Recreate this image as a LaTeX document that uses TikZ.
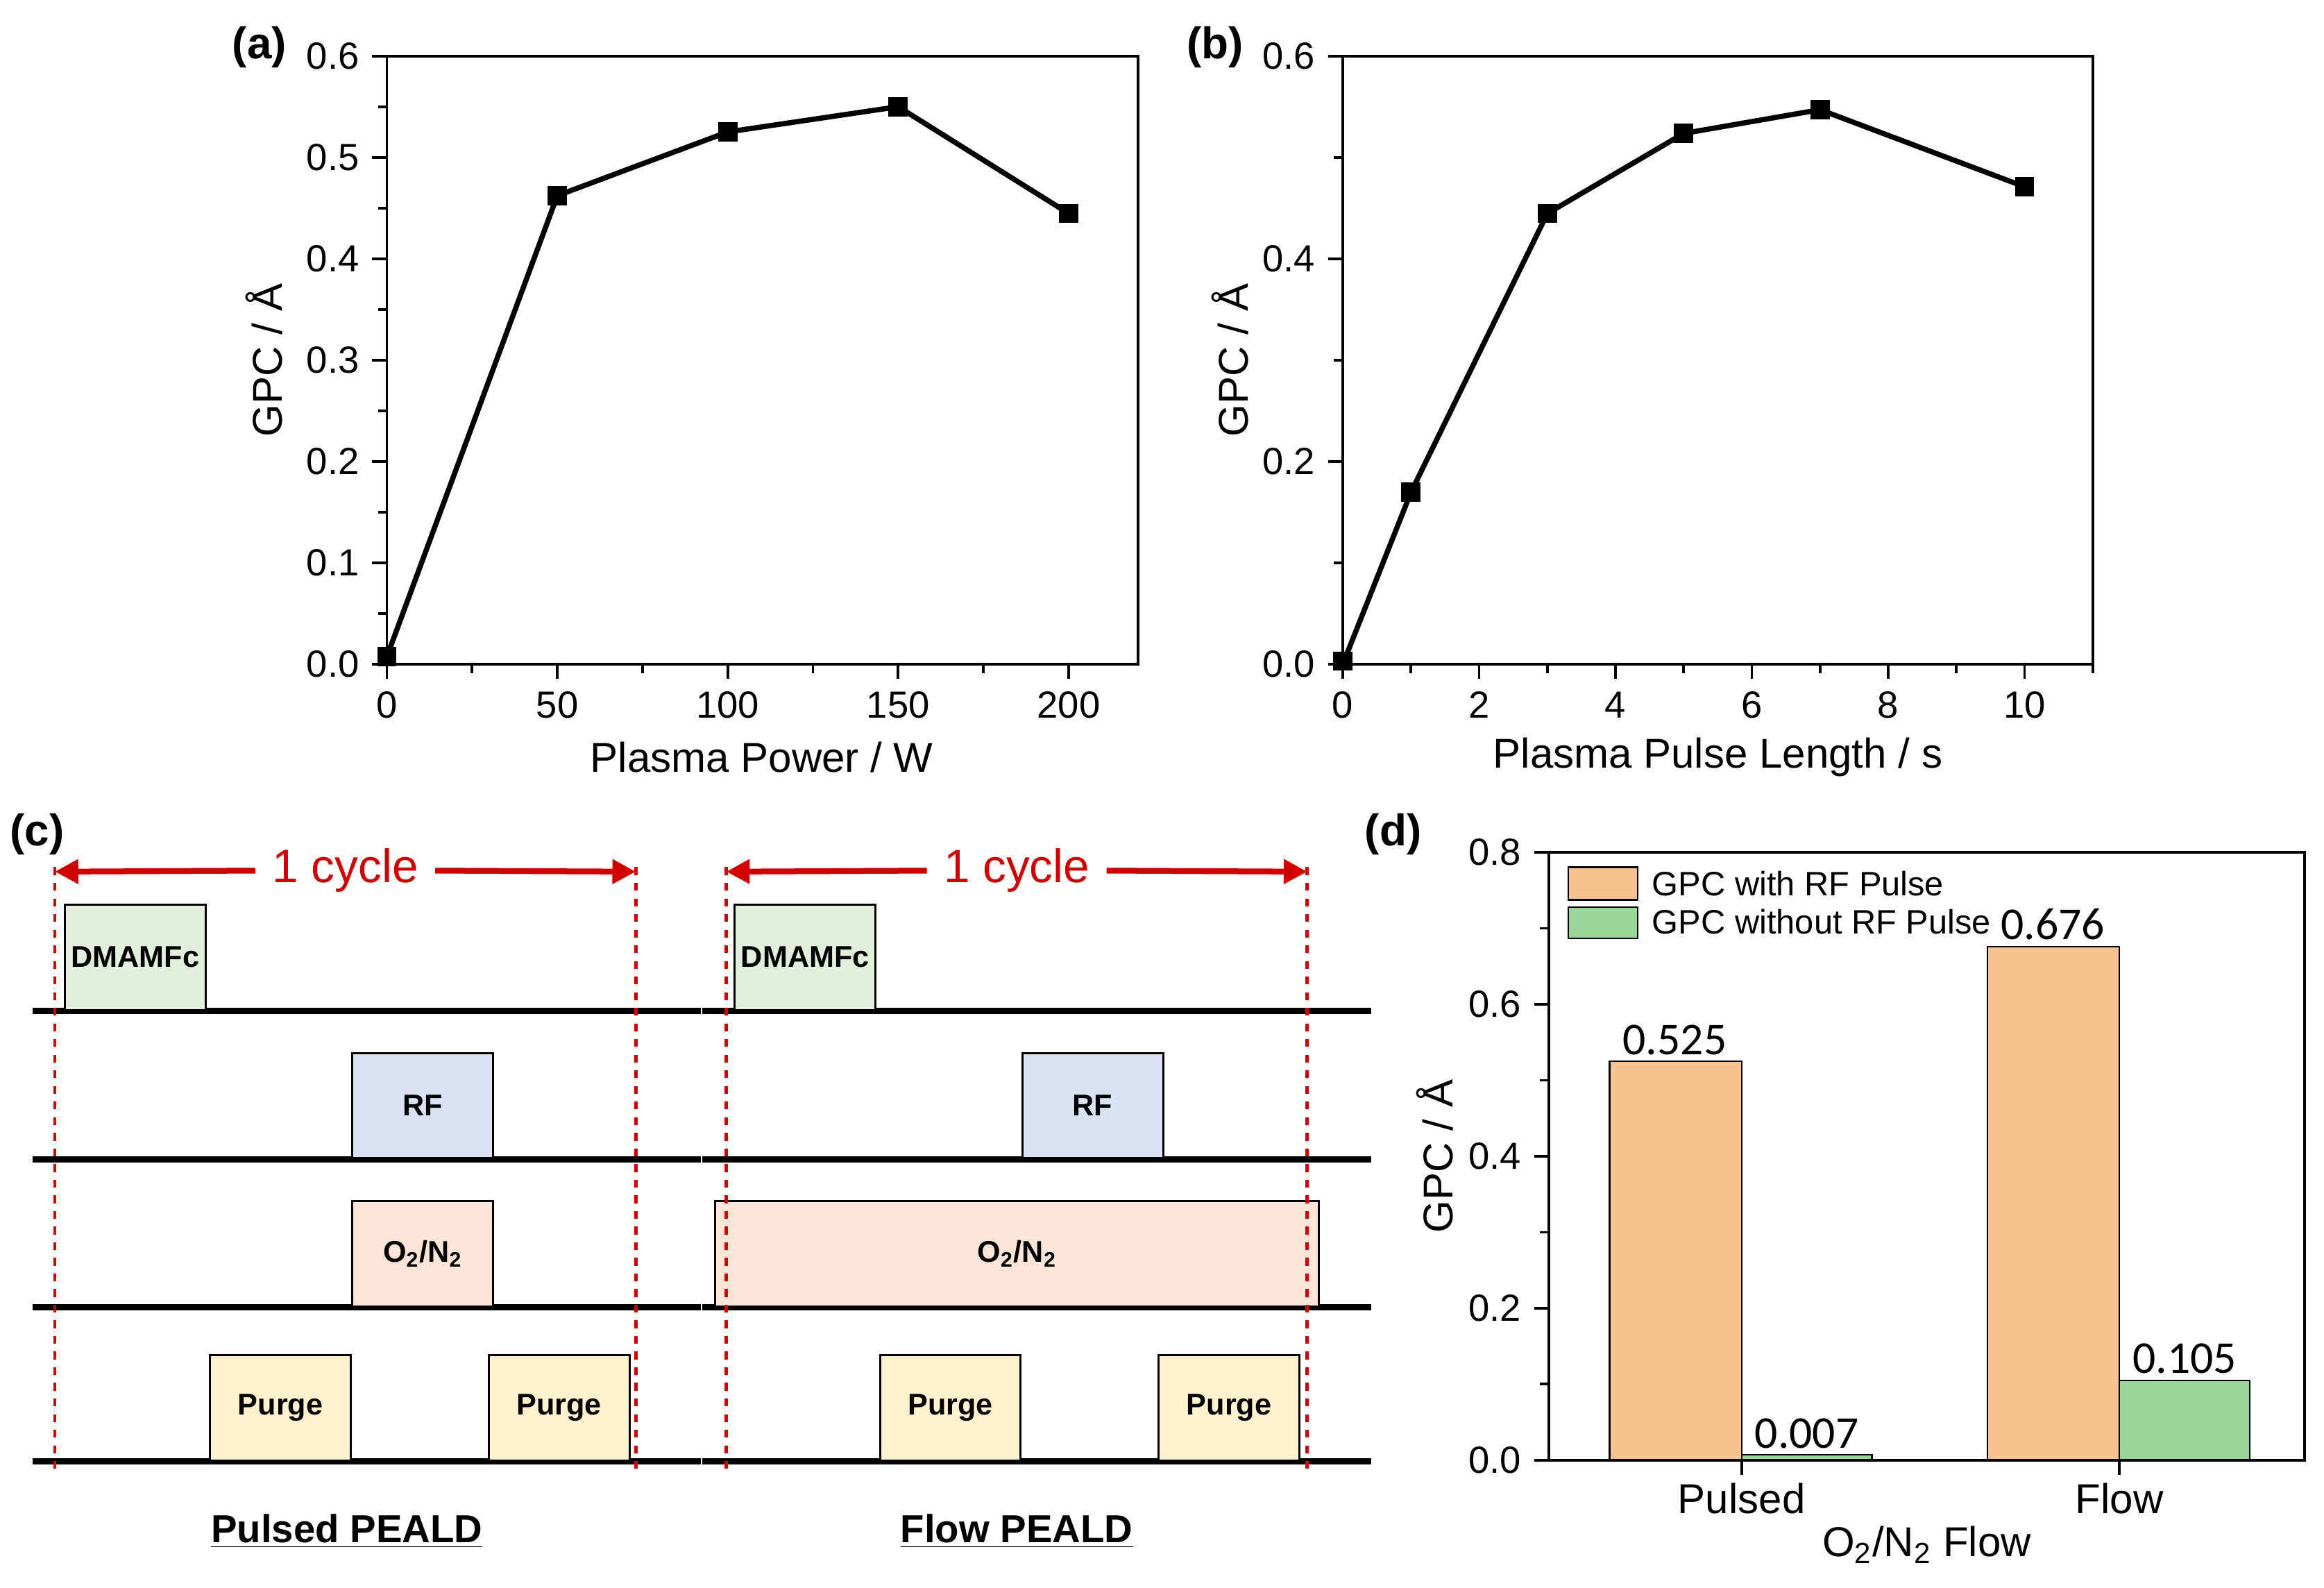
\documentclass[tikz,border=0pt]{standalone}
\usepackage{fontspec}
\setmainfont{Liberation Sans}
\newfontfamily\valfont{Carlito}
\usetikzlibrary{arrows.meta}
\definecolor{boxgreen}{HTML}{E2EFDA}
\definecolor{boxblue}{HTML}{DAE3F3}
\definecolor{boxpeach}{HTML}{FBE5D6}
\definecolor{boxyellow}{HTML}{FFF2CC}
\definecolor{barorange}{HTML}{F9C390}
\definecolor{bargreen}{HTML}{9AD89A}
\definecolor{cyclered}{HTML}{D00000}
\tikzset{
  ticklbl/.style={font=\fontsize{14.5}{16}\selectfont},
  axlabel/.style={font=\fontsize{16}{18}\selectfont},
  panel/.style={font=\fontsize{17}{19}\selectfont\bfseries},
  pulsebox/.style={draw=black, line width=0.8pt, minimum width=95*0.02cm, minimum height=71*0.02cm, anchor=south west, inner sep=0pt, font=\fontsize{11.5}{14}\selectfont\bfseries},
  baseline line/.style={line width=2.4pt},
  cyc/.style={cyclered, dashed, line width=1.3pt},
  datapt/.style={fill=black, minimum size=13*0.02cm, inner sep=0pt}
}
\begin{document}
\begin{tikzpicture}[x=0.02cm, y=-0.02cm, line width=1pt]
	\useasboundingbox (0,0) rectangle (1568,1071);
	% (a)
	\node [panel] (la) at (175,32) {(a)};
	\draw (261,38) rectangle (768,448);
	\foreach \x in {0,50,...,200} {\draw ({261+2.3*\x},448) -- ({261+2.3*\x},458); \node [ticklbl, below] at ({261+2.3*\x},460) {\x};}
	\foreach \x in {25,75,...,200} \draw ({261+2.3*\x},448) -- ({261+2.3*\x},454);
	\foreach \y in {0.0,0.1,0.2,0.3,0.4,0.5,0.6} {\draw (261,{448-683.3*\y}) -- (251,{448-683.3*\y}); \node [ticklbl, left] at (249,{448-683.3*\y}) {\y};}
	\foreach \y in {0.05,0.15,0.25,0.35,0.45,0.55} \draw (261,{448-683.3*\y}) -- (255,{448-683.3*\y});
	\node [axlabel] (xa) at (514,511) {Plasma Power / W};
	\node [axlabel, rotate=90] (ya) at (178,243) {GPC / Å};
	\draw [line width=2pt] plot coordinates {(261,443)(376,132)(491,89)(606,72)(721,144)};
	\foreach \x/\y in {261/443,376/132,491/89,606/72,721/144} \node [datapt] at (\x,\y) {};
	% (b)
	\node [panel] (lb) at (820,32) {(b)};
	\draw (906,38) rectangle (1412,448);
	\foreach \x in {0,2,...,10} {\draw ({906+46*\x},448) -- ({906+46*\x},458); \node [ticklbl, below] at ({906+46*\x},460) {\x};}
	\foreach \x in {1,3,...,11} \draw ({906+46*\x},448) -- ({906+46*\x},454);
	\foreach \y in {0.0,0.2,0.4,0.6} {\draw (906,{448-683.3*\y}) -- (896,{448-683.3*\y}); \node [ticklbl, left] at (894,{448-683.3*\y}) {\y};}
	\foreach \y in {0.1,0.3,0.5} \draw (906,{448-683.3*\y}) -- (900,{448-683.3*\y});
	\node [axlabel] (xb) at (1159,511) {Plasma Pulse Length / s};
	\node [axlabel, rotate=90] (yb) at (830,243) {GPC / Å};
	\draw [line width=2pt] plot coordinates {(906,448)(952,332)(1044,144)(1136,90)(1228,74)(1366,126)};
	\foreach \x/\y in {906/446,952/332,1044/144,1136/90,1228/74,1366/126} \node [datapt] at (\x,\y) {};
	% (c)
	\node [panel] (lc) at (25,563) {(c)};
	\foreach \dx/\name in {0/Pulsed, 452/Flow} {
	\begin{scope}[xshift=\dx*0.02cm]
	\foreach \y in {682,782,882,986} \draw [baseline line] (22,\y) -- (473,\y);
	\node [pulsebox, fill=boxgreen] (dm\name) at (43,682) {DMAMFc};
	\node [pulsebox, fill=boxblue] (rf\name) at (237,782) {RF};
	\node [pulsebox, fill=boxyellow] (pa\name) at (141,986) {Purge};
	\node [pulsebox, fill=boxyellow] (pb\name) at (329,986) {Purge};
	\node [font=\fontsize{15}{17}\selectfont\bfseries] (t\name) at (234,1033) {\underline{\name\ PEALD}};
	\end{scope}}
	\node [pulsebox, fill=boxpeach] (oPulsed) at (237,882) {O\textsubscript{2}/N\textsubscript{2}};
	\node [pulsebox, fill=boxpeach, minimum width=407*0.02cm] (oFlow) at (482,882) {O\textsubscript{2}/N\textsubscript{2}};
	\foreach \xa/\xb/\n in {37/429/p, 490/882/f} {
	\draw [cyc] (\xa,585) -- (\xa,992);
	\draw [cyc] (\xb,585) -- (\xb,992);
	\coordinate (sa\n) at (\xa,588);
	\coordinate (sb\n) at (\xb,588);
	\node [cyclered, font=\fontsize{18}{20}\selectfont, fill=white, inner sep=6pt] (cy\n) at ({(\xa+\xb)/2},587) {1 cycle};
	\draw [cyclered, line width=2.2pt, -{Triangle[length=9pt,width=9pt]}] (cy\n) -- (sa\n);
	\draw [cyclered, line width=2.2pt, -{Triangle[length=9pt,width=9pt]}] (cy\n) -- (sb\n);
	}
	% (d)
	\node [panel] (ld) at (940,563) {(d)};
	\fill [barorange] (1086,{985-512.5*0.525}) rectangle (1175,985);
	\fill [bargreen] (1175,{985-512.5*0.007}) rectangle (1263,985);
	\fill [barorange] (1341,{985-512.5*0.676}) rectangle (1430,985);
	\fill [bargreen] (1430,{985-512.5*0.105}) rectangle (1518,985);
	\draw [line width=0.6pt] (1086,985) |- (1175,{985-512.5*0.525}) -- (1175,985);
	\draw [line width=0.6pt] (1175,985) |- (1263,{985-512.5*0.007}) -- (1263,985);
	\draw [line width=0.6pt] (1341,985) |- (1430,{985-512.5*0.676}) -- (1430,985);
	\draw [line width=0.6pt] (1430,985) |- (1518,{985-512.5*0.105}) -- (1518,985);
	\foreach \x/\v in {1130/0.525,1219/0.007,1385/0.676,1474/0.105} \node [above, inner sep=2pt, font=\valfont\fontsize{17.5}{20}\selectfont] at (\x,{985-512.5*\v}) {\v};
	\draw (1045,575) rectangle (1555,985);
	\foreach \y in {0.0,0.2,0.4,0.6,0.8} {\draw (1045,{985-512.5*\y}) -- (1035,{985-512.5*\y}); \node [ticklbl, left] at (1033,{985-512.5*\y}) {\y};}
	\foreach \y in {0.1,0.3,0.5,0.7} \draw (1045,{985-512.5*\y}) -- (1039,{985-512.5*\y});
	\foreach \x/\t in {1175/Pulsed,1430/Flow} {\draw (\x,985) -- (\x,995); \node [axlabel, below] at (\x,994) {\t};}
	\node [axlabel] (xd) at (1300,1042) {O\textsubscript{2}/N\textsubscript{2} Flow};
	\node [axlabel, rotate=90] (yd) at (968,780) {GPC / Å};
	\draw [fill=barorange, line width=0.6pt] (1058,585) rectangle (1105,607);
	\draw [fill=bargreen, line width=0.6pt] (1058,612) rectangle (1105,633);
	\node [anchor=west, font=\fontsize{13}{15}\selectfont] (lg1) at (1108,596) {GPC with RF Pulse};
	\node [anchor=west, font=\fontsize{13}{15}\selectfont] (lg2) at (1108,622) {GPC without RF Pulse};
\end{tikzpicture}
\end{document}
